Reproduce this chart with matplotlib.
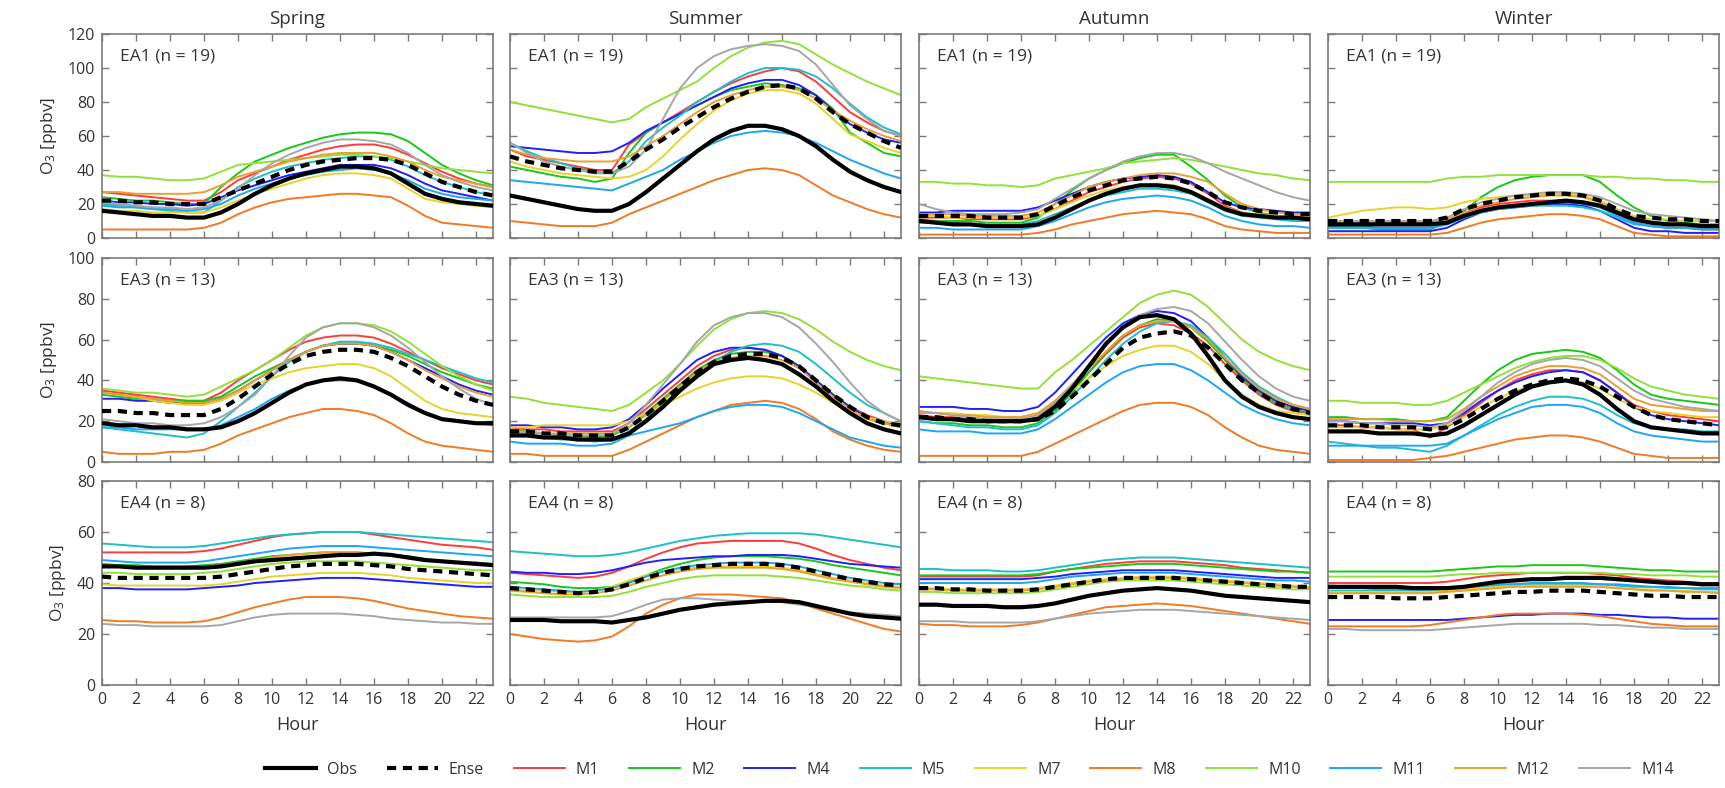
import numpy as np
import matplotlib
matplotlib.use("Agg")
import matplotlib.pyplot as plt

plt.rcParams['font.family'] = ['Open Sans', 'DejaVu Sans']
plt.rcParams['mathtext.fontset'] = 'custom'
plt.rcParams['mathtext.rm'] = 'Open Sans'
plt.rcParams['mathtext.it'] = 'Open Sans'

hours = np.arange(24)
seasons = ["Spring", "Summer", "Autumn", "Winter"]
regions = ["EA1 (n = 19)", "EA3 (n = 13)", "EA4 (n = 8)"]
ylims = [120, 100, 80]
series = ["Obs", "Ense", "M1", "M2", "M4", "M5", "M7", "M8", "M10", "M11", "M12", "M14"]
colors = ["black", "black", "#FF3B3B", "#18C818", "#2020FF", "#1CC0C8", "#E8D32C",
          "#F27A24", "#92E03A", "#1EA6F2", "#E8A030", "#A6A6A6"]

# ---------- EA1 ----------
ea1_spring = {
    "Obs":  [16,15,14,13,13,12,12,15,20,26,31,35,38,40,42,42,41,38,32,26,23,21,20,19],
    "Ense": [22,22,21,21,20,20,20,24,28,32,36,40,43,45,46,47,47,46,43,38,33,30,27,25],
    "M1":   [27,26,25,24,23,22,22,27,34,38,42,46,49,52,54,55,55,53,49,44,39,35,32,30],
    "M2":   [24,23,22,22,21,20,20,30,38,45,49,53,56,59,61,62,62,61,57,50,43,38,34,31],
    "M4":   [22,21,21,20,20,19,20,24,28,31,34,37,39,41,43,43,43,41,37,32,28,26,24,22],
    "M5":   [20,19,18,17,16,15,15,22,30,35,39,42,44,46,47,48,48,46,42,37,33,30,27,25],
    "M7":   [17,16,16,15,15,15,15,18,22,26,29,32,35,37,38,38,37,35,29,23,21,20,19,18],
    "M8":   [5,5,5,5,5,5,6,9,14,18,21,23,24,25,26,26,25,24,19,13,9,8,7,6],
    "M10":  [37,36,36,35,34,34,35,39,43,44,45,46,47,48,49,49,48,47,45,43,41,40,39,38],
    "M11":  [19,18,18,17,17,16,17,20,25,29,32,35,37,39,40,41,40,38,34,29,26,24,23,22],
    "M12":  [27,27,26,26,26,26,27,31,36,39,42,45,47,49,50,50,50,48,45,40,36,34,32,30],
    "M14":  [21,20,19,18,18,17,18,22,29,37,44,49,53,56,58,58,57,55,50,43,37,33,30,28],
}
ea1_summer = {
    "Obs":  [25,23,21,19,17,16,16,20,27,35,43,51,58,63,66,66,64,60,54,46,39,34,30,27],
    "Ense": [48,45,43,41,40,39,39,45,52,58,65,71,77,82,86,89,90,88,82,74,67,62,57,53],
    "M1":   [52,48,46,44,42,40,40,55,62,68,74,80,86,91,95,98,100,98,92,83,74,68,63,60],
    "M2":   [42,40,38,36,35,33,35,50,62,68,73,78,83,87,89,91,90,88,84,76,62,56,50,48],
    "M4":   [54,53,52,51,50,50,51,56,63,68,73,78,83,88,91,93,93,90,84,75,67,62,58,56],
    "M5":   [56,51,47,44,41,39,38,45,57,65,72,80,86,92,97,100,100,99,95,88,79,71,65,61],
    "M7":   [45,42,40,38,37,36,35,36,40,48,58,67,75,81,85,87,87,85,79,70,61,57,53,50],
    "M8":   [10,9,8,7,7,7,9,14,18,22,26,30,34,37,40,41,40,37,31,25,21,17,14,12],
    "M10":  [80,78,76,74,72,70,68,70,77,82,87,92,100,107,112,115,116,114,108,102,97,92,88,84],
    "M11":  [34,33,32,31,30,29,28,32,36,40,46,51,56,60,62,63,62,60,56,51,46,42,38,35],
    "M12":  [52,49,47,46,45,45,45,48,54,60,67,74,80,84,87,89,89,87,82,75,69,64,60,57],
    "M14":  [56,50,45,42,40,38,38,42,52,70,88,100,107,111,113,114,113,110,102,90,78,70,63,60],
}
ea1_autumn = {
    "Obs":  [10,9,8,8,7,7,7,8,12,17,22,26,29,31,31,30,27,22,17,14,13,12,12,11],
    "Ense": [13,13,13,13,12,12,12,14,19,24,28,31,34,35,36,35,32,27,21,18,16,15,14,14],
    "M1":   [12,12,12,11,11,11,11,13,17,22,27,30,33,35,36,35,32,26,19,15,13,12,11,10],
    "M2":   [11,10,10,10,9,9,9,12,20,28,35,40,44,47,49,49,42,34,25,18,15,13,12,12],
    "M4":   [15,15,16,16,16,16,16,18,22,26,30,33,35,36,37,36,33,27,21,18,17,16,15,15],
    "M5":   [9,9,9,8,8,8,8,10,14,18,22,25,27,29,29,28,26,21,16,13,12,11,10,10],
    "M7":   [13,13,12,12,12,12,12,13,17,21,25,28,30,31,32,31,28,23,18,15,14,13,12,12],
    "M8":   [2,2,2,2,2,2,2,3,5,8,10,12,14,15,16,15,14,11,7,5,4,3,3,3],
    "M10":  [33,33,32,32,31,31,30,31,35,37,39,41,44,45,46,47,46,44,42,40,38,37,35,34],
    "M11":  [6,6,5,5,5,5,5,7,10,14,18,21,23,24,25,24,22,18,13,10,8,7,7,6],
    "M12":  [14,14,14,13,13,13,13,15,20,25,30,33,35,37,38,38,36,33,26,20,17,15,14,13],
    "M14":  [20,17,15,14,14,14,15,17,23,29,35,40,45,48,50,50,48,44,39,35,31,27,24,22],
}
ea1_winter = {
    "Obs":  [8,8,8,8,8,8,8,9,13,16,18,19,20,21,22,21,19,15,11,9,8,8,7,7],
    "Ense": [10,10,10,10,10,10,10,12,17,20,22,24,25,26,26,25,22,17,13,12,11,11,10,10],
    "M1":   [8,8,8,8,8,8,8,10,15,18,20,21,22,22,22,21,19,14,9,7,6,6,5,5],
    "M2":   [6,6,6,5,5,5,5,9,16,24,30,34,36,37,37,37,33,25,18,13,10,9,8,8],
    "M4":   [4,4,4,4,4,4,4,6,11,15,17,18,19,20,20,19,16,11,6,4,4,3,3,3],
    "M5":   [6,6,6,6,6,6,6,8,12,15,17,18,19,19,19,18,16,12,8,7,6,6,6,6],
    "M7":   [12,14,16,17,18,18,17,18,21,23,24,25,25,26,26,25,22,17,13,11,11,10,10,10],
    "M8":   [2,2,2,2,2,2,2,3,6,9,11,12,13,14,14,13,11,7,3,2,1,1,1,1],
    "M10":  [33,33,33,33,33,33,33,35,36,36,37,37,37,37,37,37,36,36,35,35,34,34,33,33],
    "M11":  [7,7,7,6,6,6,6,8,12,16,18,19,20,21,21,20,18,13,9,7,6,6,5,5],
    "M12":  [9,9,9,9,9,9,9,11,15,19,21,23,24,25,25,24,21,16,11,9,9,8,8,8],
    "M14":  [10,10,10,10,10,10,10,12,17,21,23,25,26,27,27,26,24,20,16,14,13,12,11,10],
}

# ---------- EA3 ----------
ea3_spring = {
    "Obs":  [19,18,18,17,17,16,16,17,20,24,29,34,38,40,41,40,37,33,28,24,21,20,19,19],
    "Ense": [25,25,24,24,23,23,23,26,31,37,43,48,52,54,55,55,54,51,47,42,37,33,30,28],
    "M1":   [35,34,33,32,31,30,30,34,40,45,50,55,59,61,62,62,61,58,54,50,46,43,40,38],
    "M2":   [33,32,31,31,30,30,30,32,37,42,46,50,54,57,58,58,57,55,52,48,44,41,38,36],
    "M4":   [31,31,30,30,29,29,29,31,35,40,45,50,54,57,58,58,57,54,50,46,42,38,35,33],
    "M5":   [17,16,15,14,13,12,14,20,27,34,42,49,54,57,59,59,58,56,53,50,47,44,41,39],
    "M7":   [34,33,32,30,29,28,28,30,34,38,41,44,46,47,48,48,46,42,36,30,26,24,23,22],
    "M8":   [5,4,4,4,5,5,6,9,13,16,19,22,24,26,26,25,23,19,14,10,8,7,6,5],
    "M10":  [36,35,34,34,33,32,33,37,41,45,50,56,62,66,68,68,67,64,59,53,47,42,38,35],
    "M11":  [17,17,16,16,16,16,16,18,22,26,31,35,38,40,40,40,37,33,29,24,21,20,19,18],
    "M12":  [34,33,32,31,30,29,29,31,35,40,45,50,54,57,58,58,57,54,50,45,41,37,34,32],
    "M14":  [21,20,19,19,18,18,19,22,27,33,42,52,61,66,68,68,66,62,56,49,42,36,31,28],
}
ea3_summer = {
    "Obs":  [13,13,12,12,11,11,11,14,20,27,35,42,48,50,51,50,48,43,37,30,24,19,16,14],
    "Ense": [15,15,14,14,13,13,13,17,23,30,37,44,49,52,53,53,51,47,40,33,27,22,19,18],
    "M1":   [17,16,16,15,15,15,15,19,26,33,40,47,52,55,56,55,52,47,40,33,27,23,20,18],
    "M2":   [16,15,14,13,13,12,13,17,24,31,38,45,50,53,54,54,52,47,40,33,27,22,19,17],
    "M4":   [18,18,17,17,16,16,17,21,28,36,43,50,54,56,56,55,52,47,40,33,27,22,20,18],
    "M5":   [14,13,12,11,11,10,11,15,21,28,36,43,49,54,57,58,57,54,48,41,34,28,24,20],
    "M7":   [17,17,18,18,18,18,18,20,24,28,32,36,39,41,42,42,41,38,34,29,25,22,20,19],
    "M8":   [4,4,3,3,3,3,3,6,10,14,18,22,25,28,29,30,29,26,21,15,11,8,6,5],
    "M10":  [32,31,29,28,27,26,25,28,34,40,48,57,65,70,73,74,73,70,65,59,54,50,47,45],
    "M11":  [10,9,9,9,8,8,9,13,15,17,19,22,25,27,28,28,27,24,20,16,12,10,8,7],
    "M12":  [15,15,14,14,14,14,14,17,23,30,37,44,49,51,52,52,50,46,39,32,26,21,19,17],
    "M14":  [15,14,14,13,13,13,14,19,28,38,48,59,67,71,73,73,71,66,58,49,39,30,24,20],
}
ea3_autumn = {
    "Obs":  [22,21,21,20,20,20,20,21,27,36,47,58,66,71,72,70,63,52,40,32,27,24,22,21],
    "Ense": [22,22,21,21,20,20,20,21,25,32,40,48,56,61,63,64,62,56,48,40,34,29,26,24],
    "M1":   [23,22,22,21,21,20,20,22,28,36,44,53,61,66,68,67,63,57,48,40,33,28,25,24],
    "M2":   [20,19,19,18,18,17,17,19,25,34,44,54,62,67,70,69,66,59,50,41,34,29,26,24],
    "M4":   [27,27,27,26,26,25,25,27,34,43,52,61,68,72,74,73,69,61,51,42,35,30,27,25],
    "M5":   [20,19,18,17,17,16,16,18,24,32,41,50,58,64,68,69,67,61,53,44,37,32,28,26],
    "M7":   [24,24,24,23,23,22,22,24,29,35,41,47,52,55,57,57,54,48,40,33,28,25,24,23],
    "M8":   [3,3,3,3,3,3,3,5,9,13,17,21,25,28,29,29,27,23,17,12,8,6,5,4],
    "M10":  [42,41,40,39,38,37,36,36,44,50,57,64,71,78,82,84,82,76,68,60,54,50,47,45],
    "M11":  [16,15,15,15,14,14,14,16,21,27,33,39,44,47,48,48,45,40,34,28,24,21,19,18],
    "M12":  [24,24,23,23,22,22,22,24,30,38,46,54,62,67,69,69,66,60,51,43,36,31,28,26],
    "M14":  [25,24,23,22,21,21,21,23,29,38,47,57,66,72,75,76,74,68,59,50,42,36,32,30],
}
ea3_winter = {
    "Obs":  [15,15,15,14,14,14,13,14,18,23,28,33,37,39,40,38,33,26,20,17,16,15,14,14],
    "Ense": [18,18,18,17,17,17,16,17,21,26,31,35,38,40,41,40,37,32,27,23,21,20,19,18],
    "M1":   [18,18,17,17,16,16,12,17,23,29,35,40,43,45,45,44,40,34,28,25,23,22,21,20],
    "M2":   [22,22,21,21,21,20,20,22,30,38,45,50,53,54,55,54,51,45,38,33,31,30,29,28],
    "M4":   [20,20,19,19,19,19,18,19,24,30,35,39,42,44,45,44,40,34,27,23,21,20,19,18],
    "M5":   [10,9,8,7,7,6,5,8,13,18,23,27,30,32,32,31,28,23,19,17,16,16,15,15],
    "M7":   [17,17,17,17,16,16,16,18,22,27,31,35,37,39,40,39,36,31,27,25,24,23,22,22],
    "M8":   [1,1,1,1,1,1,2,3,5,7,9,11,12,13,13,12,10,7,4,3,2,2,2,2],
    "M10":  [30,30,29,29,29,28,28,30,34,38,42,46,49,51,52,52,50,46,41,37,35,33,32,31],
    "M11":  [8,8,8,8,8,8,8,9,13,17,21,24,27,28,28,27,24,19,15,13,12,11,10,10],
    "M12":  [21,21,21,21,20,20,20,21,26,32,37,42,45,47,47,46,43,37,31,28,27,26,25,25],
    "M14":  [20,20,19,19,18,18,17,19,25,32,39,44,48,50,51,50,47,41,35,31,29,27,26,25],
}

# ---------- EA4 ----------
ea4_spring = {
    "Obs":  [46.5,46.5,46,46,46,46,46,46.5,47.5,48.5,49,49.5,50,50.5,51,51,51.5,51,50,49,48.5,48,47.5,47],
    "Ense": [42.5,42,42,42,42,42,42,42.5,43.5,44.5,45.5,46.5,47,47.5,47.5,47.5,47,46.5,45.5,45,44.5,44,43.5,43],
    "M1":   [52,52,52,52,52,52,52.5,53.5,55,56.5,58,59,59.5,60,60,60,59,58,57,56,55,54.5,54,53],
    "M2":   [47.5,47,47,46.5,46.5,46.5,47,47.5,48.5,49.5,50.5,51,51.5,52,52,52,51.5,51,50.5,49.5,48.5,48,48,47.5],
    "M4":   [38,38,37.5,37.5,37.5,37.5,38,38.5,39,40,40.5,41,41.5,42,42,42,41.5,41,40.5,40,39.5,39,38.5,38.5],
    "M5":   [55.5,55,54.5,54,54,54,54.5,55.5,56.5,57.5,58.5,59,59.5,60,60,60,59.5,59,58.5,58,57.5,57,56.5,56],
    "M7":   [39.5,39,39,39,39,39,39,39.5,40.5,41.5,42.5,43,43.5,44,44,44,43.5,43,42,41.5,41,40.5,40,40],
    "M8":   [25.5,25,25,24.5,24.5,24.5,25,26.5,28.5,30.5,32,33.5,34.5,34.5,34.5,34,33,31.5,30,29,28,27,26.5,26],
    "M10":  [44,44,43.5,43.5,43.5,43.5,44,44.5,45.5,46.5,47.5,48,48.5,48.5,48.5,48.5,48,47.5,47,46.5,46,45.5,45,45],
    "M11":  [49,48.5,48,48,48,48,48.5,49.5,50.5,51.5,52.5,53.5,54,54.5,54.5,54.5,54,53.5,53,52.5,52,51.5,51,50.5],
    "M12":  [47,46.5,46.5,46,46,46,46.5,47,48,49,50,51,51.5,52,52,52,51.5,51,50,49,48.5,48,47.5,47],
    "M14":  [24,23.5,23.5,23,23,23,23,23.5,25,26.5,27.5,28,28,28,28,27.5,27,26,25.5,25,24.5,24.5,24,24],
}
ea4_summer = {
    "Obs":  [25.5,25.5,25.5,25,25,25,24.5,25.5,26.5,28,29.5,30.5,31.5,32,32.5,33,33,32.5,31,29.5,28,27,26.5,26],
    "Ense": [38,37.5,37,36.5,36,36.5,37.5,39.5,42,44,45.5,46.5,47,47.5,47.5,47.5,47,46,44.5,43,41.5,40.5,39.5,39],
    "M1":   [44,43.5,43,42.5,42,42.5,44,46.5,49.5,52,54,55.5,56,56.5,56.5,56.5,56.5,55.5,53.5,51,49,47.5,46,45],
    "M2":   [40.5,40,39.5,38.5,38,38,38.5,40.5,43,45.5,47.5,49,50,50.5,50.5,50.5,50,49.5,48.5,47,46,45,44,43],
    "M4":   [44.5,44,44,43.5,43.5,44,45,46.5,48,49,49.5,50,50.5,50.5,51,51,51,50.5,49.5,48.5,47.5,47,46.5,46],
    "M5":   [52.5,52,51.5,51,50.5,50.5,51,52,53.5,55,56.5,57.5,58.5,59,59.5,59.5,59.5,59.5,59,58,57,56,55,54],
    "M7":   [37.5,37,37,36.5,36.5,37,38.5,41,43,44.5,45.5,46,46.5,46.5,46.5,46.5,46,45,43.5,42,41,40,39,38.5],
    "M8":   [20,19,18,17.5,17,17.5,19,23,28,31.5,34,35.5,35.5,35.5,35,34.5,34,32.5,30,28,26,24,22,21],
    "M10":  [35.5,35,34.5,34.5,34.5,34.5,35,36.5,38.5,40,41.5,42.5,43,43,43,43,42.5,42,41,40,39,38.5,37.5,37],
    "M11":  [38.5,38,37.5,37,36.5,37,38,40,42.5,44.5,46,47,47.5,48,48,48,47.5,46.5,45,43.5,42,41,40,39.5],
    "M12":  [37,36.5,36,35.5,35.5,36,37,39,41,43,44.5,45.5,46,46,46,46,45.5,44.5,43,41.5,40.5,39.5,38.5,38],
    "M14":  [26.5,26.5,26.5,26.5,26.5,26.5,27,29,31.5,33.5,34,34,33.5,33,33,33,32.5,31.5,30.5,29.5,28.5,28,27.5,27],
}
ea4_autumn = {
    "Obs":  [31.5,31.5,31,31,31,30.5,30.5,31,32,33.5,35,36,37,37.5,38,37.5,37,36,35,34.5,34,33.5,33,32.5],
    "Ense": [38,38,37.5,37.5,37,37,37,37.5,38.5,39.5,40.5,41.5,42,42,42,42,41.5,41,40.5,40,39.5,39,38.5,38.5],
    "M1":   [42.5,42.5,42.5,42.5,42.5,42.5,42.5,43,44.5,45.5,46.5,47.5,48,48.5,48.5,48.5,48,47.5,47,46,45.5,45,44.5,44],
    "M2":   [43,43,43,43,43,43,43,43.5,44.5,45.5,46,46.5,47,47.5,47.5,47.5,47,46.5,46,45.5,45,44.5,44.5,44],
    "M4":   [41.5,41.5,41.5,41.5,41.5,41.5,41.5,42,42.5,43.5,44,44.5,45,45,45,45,44.5,44,43.5,43,42.5,42,42,42],
    "M5":   [45.5,45.5,45,45,45,44.5,44.5,45,46,47,48,49,49.5,50,50,50,49.5,49,48.5,48,47.5,47,46.5,46],
    "M7":   [38,38,37.5,37.5,37.5,37.5,37.5,38,39,40,41,41.5,42,42.5,42.5,42.5,42,41.5,41,40.5,40,39.5,39,38.5],
    "M8":   [24,23.5,23.5,23,23,23,23.5,24.5,26,27.5,29,30.5,31,31.5,32,31.5,31,30,29,28,27,26,25,24],
    "M10":  [36.5,36.5,36,36,36,36,36,36.5,37.5,38.5,39.5,40.5,41,41,41,41,40.5,40,39.5,39,38.5,38,37.5,37.5],
    "M11":  [40,40,40,40,40,40,40,40.5,41.5,42.5,43,43.5,44,44,44,44,43.5,43,42.5,42,41.5,41,41,40.5],
    "M12":  [37.5,37.5,37,37,37,37,37,37.5,38.5,39.5,40.5,41,41.5,42,42,42,41.5,41,40.5,40,39.5,39,38.5,38],
    "M14":  [25,25,25,24.5,24.5,24.5,24.5,25,26,27,28,28.5,29,29.5,29.5,29.5,29,28.5,28,27.5,27,26.5,26,25.5],
}
ea4_winter = {
    "Obs":  [38.5,38.5,38.5,38.5,38.5,38,38,38,38.5,39.5,40.5,41,41.5,41.5,42,42,42,41.5,41,40.5,40,40,39.5,39.5],
    "Ense": [34.5,34.5,34.5,34.5,34,34,34,34.5,35,35.5,36,36.5,36.5,37,37,37,36.5,36,35.5,35,35,34.5,34.5,34.5],
    "M1":   [40,40,40,40,40,40,40,40.5,41.5,42.5,43,43.5,44,44,44,44,43.5,43,42,41.5,41,40.5,40,40],
    "M2":   [44.5,44.5,44.5,44.5,44.5,44.5,44.5,45,45.5,46,46.5,46.5,47,47,47,47,46.5,46,45.5,45,45,44.5,44.5,44.5],
    "M4":   [25.5,25.5,25.5,25.5,25.5,25.5,25.5,25.5,26,26.5,27,27.5,27.5,28,28,28,27.5,27.5,27,26.5,26.5,26,26,26],
    "M5":   [37,37,37,37,37,37,37,37.5,38,38.5,39,39.5,39.5,39.5,39.5,39.5,39.5,39,38.5,38.5,38,38,37.5,37.5],
    "M7":   [36.5,36.5,36.5,36.5,36.5,36.5,36.5,37,37.5,38,38.5,39,39,39,39,39,38.5,38,37.5,37.5,37,37,36.5,36.5],
    "M8":   [23,23,23,23,23,23,23.5,24.5,25.5,26.5,27.5,28,28,28,28,27.5,27,26,25,24,23.5,23,23,23],
    "M10":  [42.5,42.5,42.5,42.5,42.5,42.5,42.5,43,43.5,43.5,44,44,44,44,44,44,44,43.5,43.5,43,43,43,42.5,42.5],
    "M11":  [38,38,38,37.5,37.5,37.5,37.5,38,38.5,39,39.5,39.5,40,40,40,40,39.5,39.5,39,38.5,38.5,38,38,38],
    "M12":  [36,36,36,36,36,36,36,36.5,37,37.5,38,38.5,38.5,38.5,38.5,38.5,38.5,38,37.5,37,37,36.5,36.5,36],
    "M14":  [22,22,21.5,21.5,21.5,21.5,21.5,22,22.5,23,23.5,24,24,24,24,24,23.5,23.5,23,22.5,22.5,22,22,22],
}

panels = [
    [ea1_spring, ea1_summer, ea1_autumn, ea1_winter],
    [ea3_spring, ea3_summer, ea3_autumn, ea3_winter],
    [ea4_spring, ea4_summer, ea4_autumn, ea4_winter],
]

W, H = 1725, 788
fig = plt.figure(figsize=(W / 100, H / 100), dpi=100)

col_left = [102, 510, 919, 1328]
row_top = [34, 258, 481]
ax_w, ax_h = 391, 204
spine_col = "#7a7a7a"
text_col = "#333333"

# draw order: models first, then Ense and Obs on top
draw_order = series[2:] + ["Ense", "Obs"]
handles = {}

for r in range(3):
    for c in range(4):
        ax = fig.add_axes([col_left[c] / W, 1 - (row_top[r] + ax_h) / H, ax_w / W, ax_h / H])
        data = panels[r][c]
        for name in draw_order:
            col = colors[series.index(name)]
            if name == "Obs":
                ln, = ax.plot(hours, data[name], color=col, lw=3.0, zorder=5)
            elif name == "Ense":
                ln, = ax.plot(hours, data[name], color=col, lw=3.0, ls=(0, (2.2, 1.6)), zorder=6)
            else:
                ln, = ax.plot(hours, data[name], color=col, lw=1.4)
            handles[name] = ln
        ax.set_xlim(0, 23)
        ax.set_ylim(0, ylims[r])
        ax.set_xticks(np.arange(0, 23, 2))
        ax.set_yticks(np.arange(0, ylims[r] + 1, 20))
        ax.tick_params(direction="in", top=True, right=True, length=5, width=1,
                       color=spine_col, labelsize=11.5, labelcolor=text_col, pad=5)
        for s in ax.spines.values():
            s.set_color(spine_col)
            s.set_linewidth(1.2)
        if c != 0:
            ax.set_yticklabels([])
        else:
            ax.set_ylabel("O$_3$ [ppbv]", fontsize=12.5, color=text_col, labelpad=6)
        if r != 2:
            ax.set_xticklabels([])
        else:
            ax.set_xlabel("Hour", fontsize=13, color=text_col, labelpad=6)
        if r == 0:
            ax.set_title(seasons[c], fontsize=13.5, color=text_col, pad=7)
        ax.text(0.045, 0.93, regions[r], transform=ax.transAxes, fontsize=12.5,
                color=text_col, va="top", ha="left")

fig.legend([handles[n] for n in series], series, loc="lower center",
           bbox_to_anchor=(0.562, -0.005), ncol=12, frameon=False, fontsize=11.5,
           handlelength=3.2, columnspacing=1.85, handletextpad=0.7,
           labelcolor=text_col)

fig.savefig("out.png", dpi=100)
